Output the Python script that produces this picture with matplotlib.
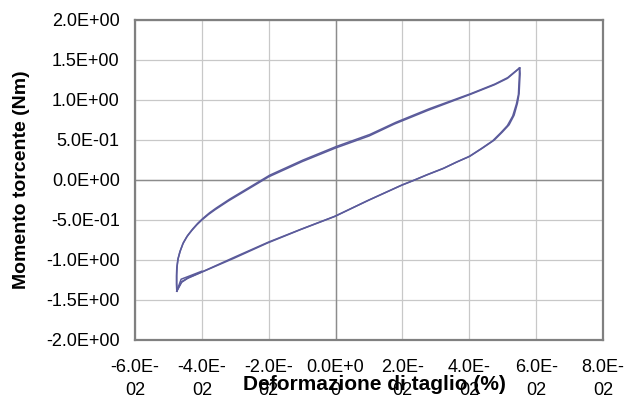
import matplotlib
matplotlib.use("Agg")
import matplotlib.pyplot as plt

# ---- data ----
# cycle 1: loading branch (strain increasing)
up1_x = [-0.0475, -0.0476, -0.0476, -0.0475, -0.0472, -0.0466, -0.0457, -0.0445, -0.0430, -0.0415,
         -0.0400, -0.0380, -0.0360, -0.0320, -0.0260, -0.0200, -0.0100, 0.0000, 0.0100, 0.0176,
         0.0276, 0.0403, 0.0475, 0.0514, 0.0551]
up1_y = [-1.39, -1.30, -1.20, -1.10, -1.00, -0.90, -0.80, -0.71, -0.63, -0.56,
         -0.50, -0.43, -0.37, -0.26, -0.11, 0.04, 0.23, 0.40, 0.55, 0.70,
         0.87, 1.07, 1.19, 1.27, 1.40]
# cycle 1: unloading branch (strain decreasing)
dn1_x = [0.0551, 0.0552, 0.0551, 0.0549, 0.0544, 0.0534, 0.0519, 0.0499, 0.0475, 0.0440, 0.0403,
         0.0365, 0.0325, 0.0276, 0.0236, 0.0200, 0.0100, 0.0000, -0.0100, -0.0200, -0.0300,
         -0.0400, -0.0440, -0.0460, -0.0475]
dn1_y = [1.40, 1.33, 1.25, 1.08, 0.96, 0.81, 0.69, 0.60, 0.50, 0.40, 0.30,
         0.23, 0.15, 0.07, 0.00, -0.06, -0.25, -0.45, -0.61, -0.775, -0.96,
         -1.15, -1.22, -1.27, -1.39]
# cycle 2 (slightly shifted repetition)
up2_x = [-0.0474, -0.0475, -0.0475, -0.0474, -0.0471, -0.0464, -0.0455, -0.0442, -0.0427, -0.0412,
         -0.0397, -0.0377, -0.0357, -0.0317, -0.0257, -0.0197, -0.0097, 0.0003, 0.0103, 0.0180,
         0.0280, 0.0405, 0.0477, 0.0515, 0.0550]
up2_y = [-1.38, -1.29, -1.18, -1.08, -0.98, -0.88, -0.78, -0.69, -0.61, -0.54,
         -0.48, -0.41, -0.35, -0.24, -0.09, 0.06, 0.25, 0.42, 0.57, 0.72,
         0.89, 1.08, 1.20, 1.28, 1.40]
dn2_x = [0.0550, 0.0550, 0.0549, 0.0547, 0.0541, 0.0530, 0.0514, 0.0494, 0.0470, 0.0435, 0.0398,
         0.0360, 0.0320, 0.0271, 0.0231, 0.0195, 0.0095, -0.0005, -0.0105, -0.0205, -0.0305,
         -0.0405, -0.0443, -0.0461, -0.0474]
dn2_y = [1.40, 1.32, 1.24, 1.07, 0.95, 0.80, 0.68, 0.59, 0.49, 0.39, 0.29,
         0.22, 0.14, 0.06, -0.01, -0.07, -0.26, -0.46, -0.62, -0.79, -0.98,
         -1.16, -1.23, -1.28, -1.38]
# initial short segment near the minimum
init_x = [-0.0475, -0.0462, -0.0440, -0.0400]
init_y = [-1.39, -1.24, -1.205, -1.14]

x_ticks = [-0.06, -0.04, -0.02, 0.0, 0.02, 0.04, 0.06, 0.08]
x_tick_labels = ["-6.0E-\n02", "-4.0E-\n02", "-2.0E-\n02", "0.0E+0\n0",
                 "2.0E-\n02", "4.0E-\n02", "6.0E-\n02", "8.0E-\n02"]
y_ticks = [2.0, 1.5, 1.0, 0.5, 0.0, -0.5, -1.0, -1.5, -2.0]
y_tick_labels = ["2.0E+00", "1.5E+00", "1.0E+00", "5.0E-01", "0.0E+00",
                 "-5.0E-01", "-1.0E+00", "-1.5E+00", "-2.0E+00"]
x_label = "Deformazione di taglio (%)"
y_label = "Momento torcente (Nm)"

plt.rcParams['font.family'] = ['Liberation Sans', 'DejaVu Sans']

fig = plt.figure(figsize=(6.27, 4.0), dpi=100)
W, H = 627, 400
ax = fig.add_axes([135 / W, 1 - 340 / H, (603 - 135) / W, (340 - 20) / H])

line_color = '#5B5B9B'
for xs, ys in [(up1_x, up1_y), (dn1_x, dn1_y), (up2_x, up2_y), (dn2_x, dn2_y), (init_x, init_y)]:
    ax.plot(xs, ys, color=line_color, lw=1.1, zorder=3, solid_joinstyle='round')

ax.set_xlim(-0.06, 0.08)
ax.set_ylim(-2.0, 2.0)
ax.set_xticks(x_ticks)
ax.set_xticklabels(x_tick_labels, fontsize=13, linespacing=1.4)
ax.set_yticks(y_ticks)
ax.set_yticklabels(y_tick_labels, fontsize=13)
ax.tick_params(axis='both', length=0)
ax.tick_params(axis='x', pad=14)
ax.tick_params(axis='y', pad=11)

ax.grid(True, color='#C8C8C8', lw=0.9, zorder=0)
ax.set_axisbelow(True)
ax.axhline(0, color='#8C8C8C', lw=1.0, zorder=1)
ax.axvline(0, color='#8C8C8C', lw=1.0, zorder=1)

for s in ax.spines.values():
    s.set_color('#808080')
    s.set_linewidth(1.6)

ax.set_xlabel(x_label, fontsize=15, fontweight='bold')
ax.xaxis.set_label_coords((374 - 135) / 468, (340 - 385) / 320)
ax.xaxis.label.set_va('center')
ax.set_ylabel(y_label, fontsize=14, fontweight='bold')
ax.yaxis.set_label_coords((22 - 135) / 468, 0.5)
ax.yaxis.label.set_va('center')

fig.savefig('out.png', dpi=100)
